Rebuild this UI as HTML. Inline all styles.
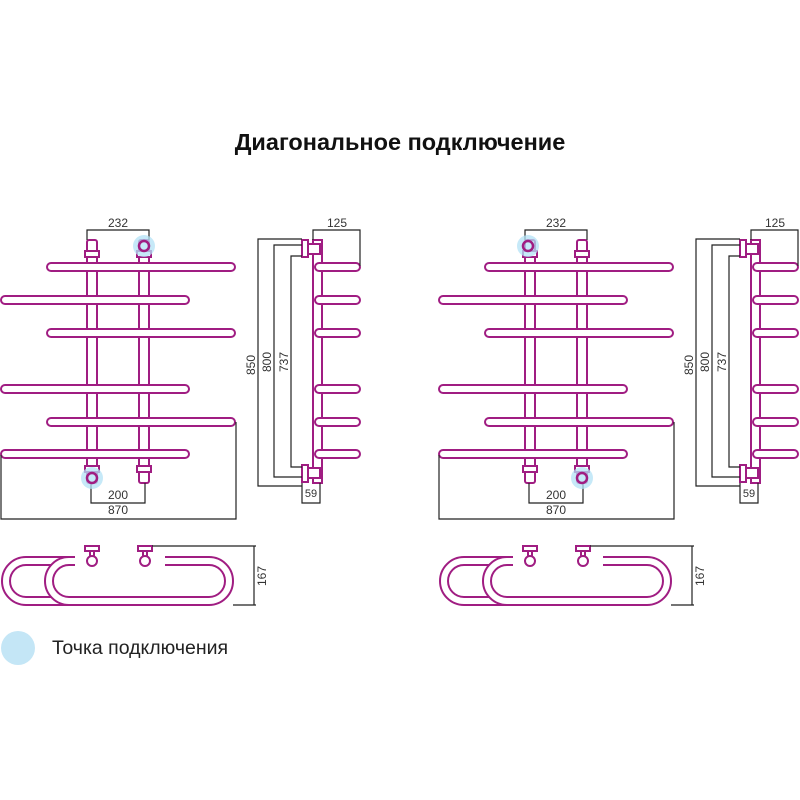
<!DOCTYPE html>
<html><head><meta charset="utf-8"><style>
html,body{margin:0;padding:0;background:#fff;width:800px;height:800px;overflow:hidden}
svg{display:block}
text{font-family:"Liberation Sans",sans-serif}
</style></head><body>
<svg width="800" height="800" viewBox="0 0 800 800" xmlns="http://www.w3.org/2000/svg">
<defs>
<g id="unit">
  <g fill="#fff" stroke="#a01d82" stroke-width="2">
    <rect x="87" y="240" width="10" height="243" rx="2"/>
    <rect x="139" y="240" width="10" height="243" rx="2"/>
    <rect x="85" y="251" width="14" height="6"/>
    <rect x="137" y="251" width="14" height="6"/>
    <rect x="85" y="466" width="14" height="6"/>
    <rect x="137" y="466" width="14" height="6"/>
    <rect x="47" y="263" width="188" height="8" rx="4"/>
    <rect x="1" y="296" width="188" height="8" rx="4"/>
    <rect x="47" y="329" width="188" height="8" rx="4"/>
    <rect x="1" y="385" width="188" height="8" rx="4"/>
    <rect x="47" y="418" width="188" height="8" rx="4"/>
    <rect x="1" y="450" width="188" height="8" rx="4"/>
  </g>
  <g stroke="#222" stroke-width="1.2" fill="none">
    <path d="M87 240V230H149V240"/>
    <path d="M91 483V503H145V483"/>
    <path d="M1 455V519H236V422"/>
  </g>
  <g font-size="12" fill="#333" text-anchor="middle">
    <text x="118" y="227">232</text>
    <text x="118" y="499">200</text>
    <text x="118" y="514">870</text>
  </g>
  <g fill="#fff" stroke="#a01d82" stroke-width="2">
    <rect x="313" y="240" width="9" height="243"/>
    <rect x="302" y="240" width="6" height="17"/>
    <rect x="308" y="244" width="12" height="10"/>
    <rect x="302" y="465" width="6" height="17"/>
    <rect x="308" y="468" width="12" height="10"/>
    <rect x="315" y="263" width="45" height="8" rx="4"/>
    <rect x="315" y="296" width="45" height="8" rx="4"/>
    <rect x="315" y="329" width="45" height="8" rx="4"/>
    <rect x="315" y="385" width="45" height="8" rx="4"/>
    <rect x="315" y="418" width="45" height="8" rx="4"/>
    <rect x="315" y="450" width="45" height="8" rx="4"/>
  </g>
  <g stroke="#222" stroke-width="1.2" fill="none">
    <path d="M302 239H258V486H302"/>
    <path d="M302 245H274V477H302"/>
    <path d="M302 256H291V467H302"/>
    <path d="M313 240V230H360V266"/>
    <path d="M302 483V503H320V483"/>
  </g>
  <g font-size="12" fill="#333" text-anchor="middle">
    <text x="337" y="227">125</text>
    <text x="311" y="497" font-size="11">59</text>
    <text transform="translate(255,365) rotate(-90)">850</text>
    <text transform="translate(271,362) rotate(-90)">800</text>
    <text transform="translate(288,362) rotate(-90)">737</text>
  </g>
  <g fill="none" stroke="#a01d82" stroke-width="2">
    <rect x="2" y="557" width="188" height="48" rx="24"/>
    <rect x="10" y="565" width="172" height="32" rx="16"/>
    <rect x="45" y="557" width="188" height="48" rx="24" fill="#fff"/>
    <rect x="53" y="565" width="172" height="32" rx="16"/>
  </g>
  <rect x="75" y="552" width="90" height="14" fill="#fff"/>
  <g fill="#fff" stroke="#a01d82" stroke-width="2">
    <rect x="85" y="546" width="14" height="5"/>
    <rect x="90" y="551" width="4" height="6"/>
    <circle cx="92" cy="561" r="5"/>
    <rect x="138" y="546" width="14" height="5"/>
    <rect x="143" y="551" width="4" height="6"/>
    <circle cx="145" cy="561" r="5"/>
  </g>
  <path d="M152 546H256M233 605H256M254 546V605" stroke="#222" stroke-width="1.2" fill="none"/>
  <text transform="translate(266,576) rotate(-90)" font-size="12" fill="#333" text-anchor="middle">167</text>
</g>
</defs>
<text x="400" y="150" font-size="23.5" font-weight="bold" text-anchor="middle" fill="#111">Диагональное подключение</text>
<use href="#unit"/>
<use href="#unit" transform="translate(438,0)"/>
<g fill="#b3e1f5" fill-opacity="0.75">
  <circle cx="144" cy="246" r="11"/>
  <circle cx="92" cy="478" r="11"/>
  <circle cx="528" cy="246" r="11"/>
  <circle cx="582" cy="478" r="11"/>
</g>
<g fill="none" stroke="#a01d82" stroke-width="2.5">
  <circle cx="144" cy="246" r="5"/>
  <circle cx="92" cy="478" r="5"/>
  <circle cx="528" cy="246" r="5"/>
  <circle cx="582" cy="478" r="5"/>
</g>
<circle cx="18" cy="648" r="17" fill="#c4e6f6"/>
<text x="52" y="654" font-size="19.5" fill="#222">Точка подключения</text>
</svg>
</body></html>
